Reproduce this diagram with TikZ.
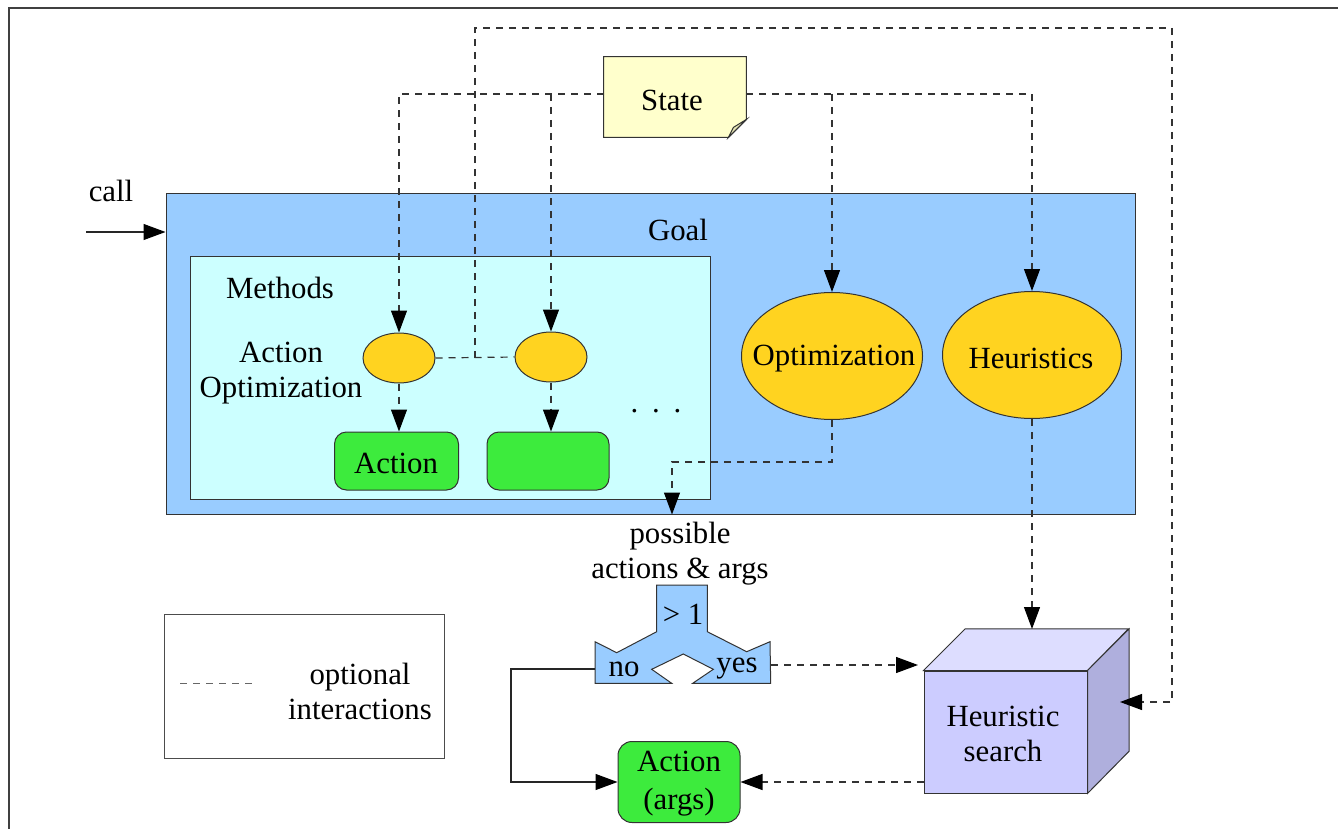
\documentclass[tikz,border=0pt]{standalone}
\usepackage{fontspec}
\setmainfont{Liberation Serif}
\usetikzlibrary{arrows.meta,shapes.geometric}
\definecolor{goalblue}{HTML}{99CCFF}
\definecolor{methcyan}{HTML}{CCFFFF}
\definecolor{gold}{HTML}{FFD320}
\definecolor{actgreen}{HTML}{3DEB3D}
\definecolor{notey}{HTML}{FFFFCC}
\definecolor{notefold}{HTML}{E4E4B4}
\definecolor{cubefront}{HTML}{CCCCFF}
\definecolor{cubetop}{HTML}{DDDDFF}
\definecolor{cubeside}{HTML}{AFAFDD}
\begin{document}
\begin{tikzpicture}[x=0.5pt,y=-0.5pt,
  font=\fontsize{15.4}{17.5}\selectfont,
  blk/.style={draw=black!80, line width=0.5pt, inner sep=0pt},
  lbl/.style={inner sep=0pt, align=center},
  opt/.style={draw=black!80, line width=0.6pt, dash pattern=on 3.5pt off 3pt},
  solidline/.style={draw=black!85, line width=0.6pt},
  tip/.style={-{Triangle[length=11pt,width=8pt,color=black,fill=black]}}]
\useasboundingbox (0,0) rectangle (1338,829);
% outer frame
\draw[black!75, line width=1pt] (9,829) -- (9,8) -- (1338,8);

% goal container and methods panel
\node[blk, fill=goalblue, minimum width=484.5pt, minimum height=160.5pt] (goal) at (650.5,353.5) {};
\node[lbl] (goallbl) at (678,230) {Goal};
\node[blk, fill=methcyan, minimum width=260pt, minimum height=121.5pt] (meth) at (450,377.5) {};
\node[lbl] (methlbl) at (280,288) {Methods};
\node[lbl] (aolbl) at (281,373) {Action\\Optimization};

% action optimization ellipses and actions
\node[blk, ellipse, fill=gold, minimum width=36pt, minimum height=25pt] (e1) at (399,358) {};
\node[blk, ellipse, fill=gold, minimum width=36pt, minimum height=25pt] (e2) at (551,357) {};
\node[blk, rounded corners=6pt, fill=actgreen, minimum width=62pt, minimum height=29pt] (a1) at (396.5,461) {};
\node[lbl] (a1lbl) at (396,463) {Action};
\node[blk, rounded corners=6pt, fill=actgreen, minimum width=61pt, minimum height=29pt] (a2) at (548,461) {};
\node[lbl, anchor=base] (dots) at (656,412) {.\hspace{0.45em}.\hspace{0.45em}.};

% goal-level optimization and heuristics
\node[blk, ellipse, fill=gold, minimum width=90.5pt, minimum height=63.5pt] (optn) at (832,356) {};
\node[lbl] (optlbl) at (834,359) {Optimization};
\node[blk, ellipse, fill=gold, minimum width=89.5pt, minimum height=63.5pt] (heur) at (1032,355) {};
\node[lbl] (heurlbl) at (1031,358) {Heuristics};

% state note with folded corner
\node[inner sep=0pt, minimum width=71pt, minimum height=40pt] (state) at (675,97) {};
\filldraw[fill=notey, draw=black!80, line width=0.5pt]
  (state.north west) -- (state.north east) -- ([yshift=9pt]state.south east)
  -- ([xshift=-9pt]state.south east) -- (state.south west) -- cycle;
\filldraw[fill=notefold, draw=black!80, line width=0.5pt]
  ([yshift=9pt]state.south east) -- ([xshift=-9pt]state.south east)
  -- ([xshift=-6.5pt,yshift=5pt]state.south east) -- cycle;
\node[lbl] (statelbl) at (672,100) {State};

% call entry
\node[lbl] (calllbl) at (111,191) {call};
\coordinate (callin) at (86,232);
\draw[solidline, tip] (callin) -- (callin -| goal.west);

% state feeds
\coordinate (sl) at (398,94);
\draw[opt, tip] (state.west |- sl) -| (e1.north);
\draw[opt, tip] (e2.north |- sl) -- (e2.north);
\draw[opt, tip] (state.east |- sl) -| (heur.north);
\draw[opt, tip] (optn.north |- sl) -- (optn.north);

% method internals
\draw[opt, tip] (e1.south) -- (e1.south |- a1.north);
\draw[opt, tip] (e2.south) -- (e2.south |- a2.north);
\draw[opt] (e1.east) -- (e2.west);

% heuristic search cube
\node[blk, fill=cubefront, minimum width=81.5pt, minimum height=61pt] (hs) at (1005.5,732) {};
\filldraw[fill=cubetop, draw=black!80, line width=0.5pt]
  (hs.north west) -- ++(41.7,-41.7) -- ++(163.3,0) -- (hs.north east) -- cycle;
\filldraw[fill=cubeside, draw=black!80, line width=0.5pt]
  (hs.north east) -- ++(41.7,-41.7) -- ++(0,122.3) -- (hs.south east) -- cycle;
\node[lbl] (hslbl) at (1003,734) {Heuristic\\search};

% long link from method optimization to the search
\coordinate (jn) at (475,358);
\coordinate (tr) at (1172,28);
\coordinate (hsr) at (1120,702);
\draw[opt, tip] (jn) |- (tr) |- (hsr);

% optimization produces possible actions
\coordinate (bend) at (672,462);
\draw[opt, tip] (optn.south) |- (bend) -- (bend |- goal.south);
\node[lbl] (poss) at (680,554) {possible\\actions \& args};

% decision shape
\filldraw[fill=goalblue, draw=black!80, line width=0.5pt]
  (656.7,585) -- (707.3,585) -- (707.3,631.7) -- (746.7,651.7) -- (770,641.7)
  -- (770.7,683.3) -- (692.7,683.3) -- (713.3,669.3) -- (683.3,654) -- (651.7,669.3)
  -- (671.7,683.3) -- (595,683.3) -- (595,641.7) -- (616.7,652.7) -- (656.7,631.7) -- cycle;
\node[lbl] (gt) at (683,614) {> 1};
\node[lbl] (nolbl) at (624,669) {no};
\node[lbl] (yeslbl) at (737,669) {yes};
\coordinate (dno) at (595,669);
\coordinate (dyes) at (771,665);
\coordinate (nocorner) at (511,669);
\coordinate (hsyes) at (918,665);
\coordinate (hstop) at (1032,629);

% final action
\node[blk, rounded corners=7pt, fill=actgreen, minimum width=61pt, minimum height=40.5pt] (args) at (679,782) {};
\node[lbl] (argslbl) at (679,784) {Action\\[1.5pt](args)};

\draw[solidline, tip] (dno) -- (nocorner) |- (args.west);
\draw[opt, tip] (dyes) -- (hsyes);
\draw[opt, tip] (heur.south) -- (hstop);
\draw[opt, tip] (hs.west |- args.east) -- (args.east);

% legend
\node[blk, draw=black!70, minimum width=140pt, minimum height=72pt] (leg) at (304,686) {};
\draw[opt, draw=black!60, line width=0.5pt] (180,683) -- (255,683);
\node[lbl] (leglbl) at (360,691) {optional\\interactions};
\end{tikzpicture}
\end{document}
